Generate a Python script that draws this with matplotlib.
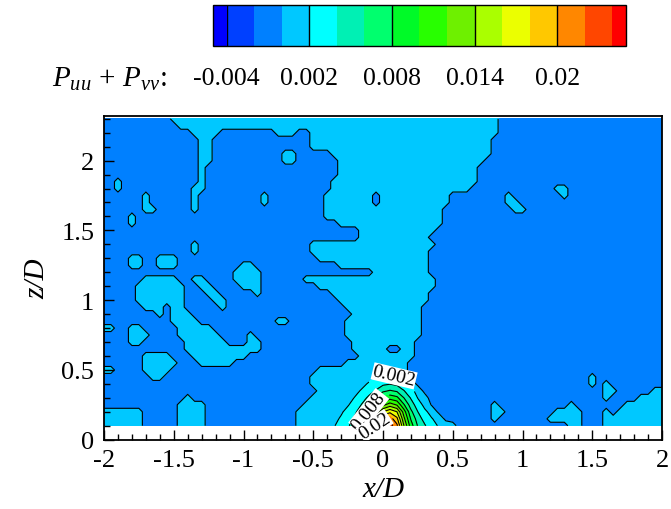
import numpy as np
import matplotlib
matplotlib.use("Agg")
import matplotlib.pyplot as plt
from matplotlib.ticker import MultipleLocator

plt.rcParams.update({
    "font.family": "Liberation Serif",
    "mathtext.fontset": "custom",
    "mathtext.rm": "Liberation Serif",
    "mathtext.it": "Liberation Serif:italic",
    "axes.unicode_minus": False,
})

# contour levels and legend
LEVELS = [-0.004, -0.002, 0.0, 0.002, 0.004, 0.006, 0.008, 0.010, 0.012,
          0.014, 0.016, 0.018, 0.020, 0.022, 0.024]
COLORS = ["#0000ff", "#0040ff", "#0080ff", "#00c8ff", "#00ffff", "#00f0b4",
          "#00ff6e", "#00fa28", "#28ff00", "#6ef000", "#aaff00", "#ebff00",
          "#ffc800", "#ff8700", "#ff4600", "#ff0000"]
CBAR_TICKS = [-0.004, 0.002, 0.008, 0.014, 0.02]
CBAR_LABELS = ["-0.004", "0.002", "0.008", "0.014", "0.02"]
LABELED = [0.002, 0.008, 0.020]

# measurement grid (x/D columns, z/D rows from top to bottom)
GRID_X = [round(-2 + 0.05 * i, 2) for i in range(81)]
ROW_Z = [2.30, 2.25, 2.20, 2.15, 2.10, 2.05, 2.00, 1.95, 1.90, 1.85, 1.80,
         1.75, 1.70, 1.65, 1.60, 1.55, 1.50, 1.45, 1.40, 1.35, 1.30, 1.25,
         1.20, 1.15, 1.10, 1.05, 1.00, 0.95, 0.90, 0.85, 0.80, 0.75, 0.70,
         0.65, 0.60, 0.55, 0.50, 0.45, 0.40, 0.35, 0.30, 0.25, 0.20, 0.15,
         0.10]
BACKGROUND = -0.001   # level -0.002..0
LIGHT = 0.001         # level 0..0.002

# x/D spans per row where P_uu+P_vv is in 0..0.002
LIGHT_SPANS = [
    [(-1.50, 0.80)],
    [(-1.45, 0.80)],
    [(-1.35, -1.20), (-0.75, -0.65), (-0.50, 0.80)],
    [(-1.30, -1.25), (-0.50, 0.75)],
    [(-1.30, -1.25), (-0.50, 0.75)],
    [(-1.30, -1.25), (-0.70, -0.65), (-0.35, 0.75)],
    [(-1.30, -1.25), (-0.70, -0.65), (-0.30, 0.70)],
    [(-1.30, -1.30), (-0.30, 0.65)],
    [(-1.30, -1.30), (-0.30, 0.65)],
    [(-1.90, -1.90), (-1.30, -1.30), (-0.35, 0.65)],
    [(-1.90, -1.90), (-1.35, -1.30), (-0.35, 0.60), (1.25, 1.30)],
    [(-1.70, -1.70), (-1.35, -1.35), (-0.85, -0.85), (-0.40, -0.10),
     (0.00, 0.45), (0.90, 0.90), (1.30, 1.30)],
    [(-1.70, -1.70), (-1.35, -1.35), (-0.85, -0.85), (-0.40, -0.10),
     (0.00, 0.45), (0.90, 0.95)],
    [(-1.70, -1.65), (-1.35, -1.35), (-0.40, 0.40), (0.95, 1.00)],
    [(-1.80, -1.80), (-0.40, 0.40)],
    [(-1.80, -1.80), (-0.30, 0.40)],
    [(-0.15, 0.35)],
    [(-0.15, 0.30)],
    [(-1.35, -1.35), (-0.50, 0.35)],
    [(-1.35, -1.35), (-0.50, 0.30)],
    [(-1.80, -1.75), (-1.60, -1.50), (-0.45, 0.30)],
    [(-1.80, -1.75), (-1.60, -1.50), (-1.00, -0.95), (-0.30, 0.30)],
    [(-1.05, -0.90), (-0.05, 0.30)],
    [(-1.70, -1.50), (-1.35, -1.30), (-1.05, -0.90), (-0.55, 0.35)],
    [(-1.75, -1.45), (-1.30, -1.25), (-1.00, -0.90), (-0.45, 0.35)],
    [(-1.75, -1.45), (-1.25, -1.20), (-0.90, -0.90), (-0.35, 0.30)],
    [(-1.75, -1.45), (-1.20, -1.15), (-0.30, 0.30)],
    [(-1.70, -1.60), (-1.50, -1.45), (-1.15, -1.15), (-0.25, 0.25)],
    [(-1.60, -1.60), (-1.50, -1.40), (-0.20, 0.25)],
    [(-1.50, -1.35), (-0.75, -0.70), (-0.25, 0.25)],
    [(-2.00, -1.95), (-1.80, -1.75), (-1.45, -1.25), (-0.25, 0.25)],
    [(-1.80, -1.70), (-1.45, -1.20), (-0.95, -0.95), (-0.25, 0.25)],
    [(-1.80, -1.75), (-1.40, -1.15), (-0.95, -0.90), (-0.20, 0.20)],
    [(-1.40, -0.90), (-0.20, 0.00), (0.15, 0.20)],
    [(-1.70, -1.55), (-1.35, -1.00), (-0.15, 0.20)],
    [(-1.70, -1.50), (-1.30, -1.10), (-0.25, 0.15)],
    [(-2.00, -1.95), (-1.70, -1.55), (-0.45, 0.15)],
    [(-1.65, -1.60), (-0.50, 0.15), (1.50, 1.50)],
    [(-0.50, 0.20), (1.50, 1.50), (1.60, 1.60)],
    [(-0.45, 0.25), (1.60, 1.65), (1.95, 2.00)],
    [(-1.40, -1.40), (-0.50, 0.30), (1.60, 1.60), (1.85, 2.00)],
    [(-1.45, -1.30), (-0.55, 0.30), (0.80, 0.80), (1.35, 1.35), (1.75, 2.00)],
    [(-2.00, -1.75), (-1.45, -1.30), (-0.60, 0.35), (0.80, 0.85),
     (1.25, 1.40), (1.60, 1.60), (1.70, 2.00)],
    [(-2.00, -1.75), (-1.45, -1.30), (-0.60, 0.40), (0.80, 0.80),
     (1.20, 1.40), (1.60, 2.00)],
    [(-2.00, -1.75), (-1.45, -1.30), (-0.60, 0.50), (1.35, 1.40),
     (1.60, 2.00)],
]

JET_X = [-0.40, -0.35, -0.30, -0.25, -0.20, -0.15, -0.10, -0.05, 0.00,
         0.05, 0.10, 0.15, 0.20, 0.25, 0.30, 0.35, 0.40, 0.45]
JET_Z = [0.10, 0.15, 0.20, 0.25, 0.30, 0.35, 0.40, 0.45]
JET_VALUES = [
    [0.0013, 0.0019, 0.0027, 0.0037, 0.0055, 0.009, 0.014, 0.0215, 0.0235,
     0.023, 0.0205, 0.014, 0.009, 0.0058, 0.0042, 0.0028, 0.0018, 0.0012],
    [0.0011, 0.0016, 0.0022, 0.0031, 0.0045, 0.007, 0.011, 0.017, 0.0205,
     0.021, 0.0185, 0.0125, 0.0078, 0.005, 0.0032, 0.0021, 0.0013, -0.0005],
    [0.0009, 0.0013, 0.0018, 0.0025, 0.0036, 0.0055, 0.0085, 0.0125, 0.016,
     0.0175, 0.016, 0.011, 0.0065, 0.004, 0.0024, 0.0013, -0.0004, -0.001],
    [0.0008, 0.001, 0.0014, 0.0019, 0.0027, 0.0042, 0.0062, 0.0088, 0.0115,
     0.013, 0.0118, 0.0082, 0.005, 0.003, 0.0014, -0.0002, -0.001, -0.001],
    [0.001, 0.001, 0.0011, 0.0015, 0.0021, 0.0031, 0.0045, 0.0063, 0.0083,
     0.0092, 0.0085, 0.006, 0.0038, 0.0019, 0.0009, -0.001, -0.001, -0.001],
    [0.001, 0.001, 0.001, 0.0012, 0.0016, 0.0022, 0.0031, 0.0042, 0.0056,
     0.0062, 0.0057, 0.0041, 0.0026, 0.0013, -0.0006, -0.001, -0.001, -0.001],
    [0.001, 0.001, 0.001, 0.001, 0.0012, 0.0016, 0.0022, 0.0028, 0.0036,
     0.0039, 0.0035, 0.0026, 0.0012, -0.0005, -0.001, -0.001, -0.001, -0.001],
    [0.001, 0.001, 0.001, 0.001, 0.001, 0.0012, 0.0015, 0.0019, 0.0022,
     0.0023, 0.0021, 0.0015, -0.0002, -0.001, -0.001, -0.001, -0.001, -0.001],
]

# build the field
gx = np.array(GRID_X)
field = np.full((len(ROW_Z), len(gx)), BACKGROUND)
for r, spans in enumerate(LIGHT_SPANS):
    for x0, x1 in spans:
        field[r, (gx >= x0 - 1e-6) & (gx <= x1 + 1e-6)] = LIGHT
c0 = GRID_X.index(JET_X[0])
for k, jz in enumerate(JET_Z):
    r = ROW_Z.index(jz)
    field[r, c0:c0 + len(JET_X)] = JET_VALUES[k]

gz = np.array(ROW_Z)[::-1]
field = field[::-1]

fig = plt.figure(figsize=(6.71, 5.10), dpi=100)
ax = fig.add_axes([0.155, 0.1359, 0.8316, 0.6347])

cf = ax.contourf(gx, gz, field, levels=LEVELS, colors=COLORS, extend="both")
plain = [v for v in LEVELS if min(abs(v - l) for l in LABELED) > 1e-9]
ax.contour(gx, gz, field, levels=plain, colors="k", linewidths=0.8)
cs = ax.contour(gx, gz, field, levels=LABELED, colors="k", linewidths=0.8)
lbls = ax.clabel(cs, fmt=lambda v: f"{v:g}", fontsize=14, inline=True,
                 manual=[(0.08, 0.46), (-0.12, 0.22), (-0.1, 0.12)])
for t in lbls:
    t.set_bbox(dict(facecolor="white", edgecolor="none", pad=0.2))

ax.set_xlim(-2, 2)
ax.set_ylim(0, 2.32)
ax.set_xticks([-2, -1.5, -1, -0.5, 0, 0.5, 1, 1.5, 2])
ax.set_xticklabels(["-2", "-1.5", "-1", "-0.5", "0", "0.5", "1", "1.5", "2"])
ax.set_yticks([0, 0.5, 1, 1.5, 2])
ax.set_yticklabels(["0", "0.5", "1", "1.5", "2"])
ax.xaxis.set_minor_locator(MultipleLocator(0.1))
ax.yaxis.set_minor_locator(MultipleLocator(0.1))
ax.tick_params(which="both", direction="in", top=False, right=False,
               labelsize=19, width=1)
ax.tick_params(which="major", length=7, pad=7)
ax.tick_params(which="minor", length=4)
for s in ax.spines.values():
    s.set_linewidth(1.3)
ax.set_xlabel("x/D", fontsize=21, fontstyle="italic", labelpad=3)
ax.set_ylabel("z/D", fontsize=21, fontstyle="italic", labelpad=8)

# legend bar at the top
cax = fig.add_axes([0.3174, 0.9078, 0.6155, 0.0804])
cb = fig.colorbar(cf, cax=cax, orientation="horizontal", extendrect=True,
                  extendfrac=0.5 / 14)
cb.set_ticks(CBAR_TICKS, labels=CBAR_LABELS)
cb.ax.tick_params(length=0, pad=15, labelsize=18.5)
cb.outline.set_linewidth(1)
for v in CBAR_TICKS:
    cb.ax.axvline(v, color="k", lw=1)
fig.text(0.0775, 0.829, r"$P_{uu}\,+\,P_{vv}$:", fontsize=21, va="baseline")

fig.savefig("out.png", dpi=100)
